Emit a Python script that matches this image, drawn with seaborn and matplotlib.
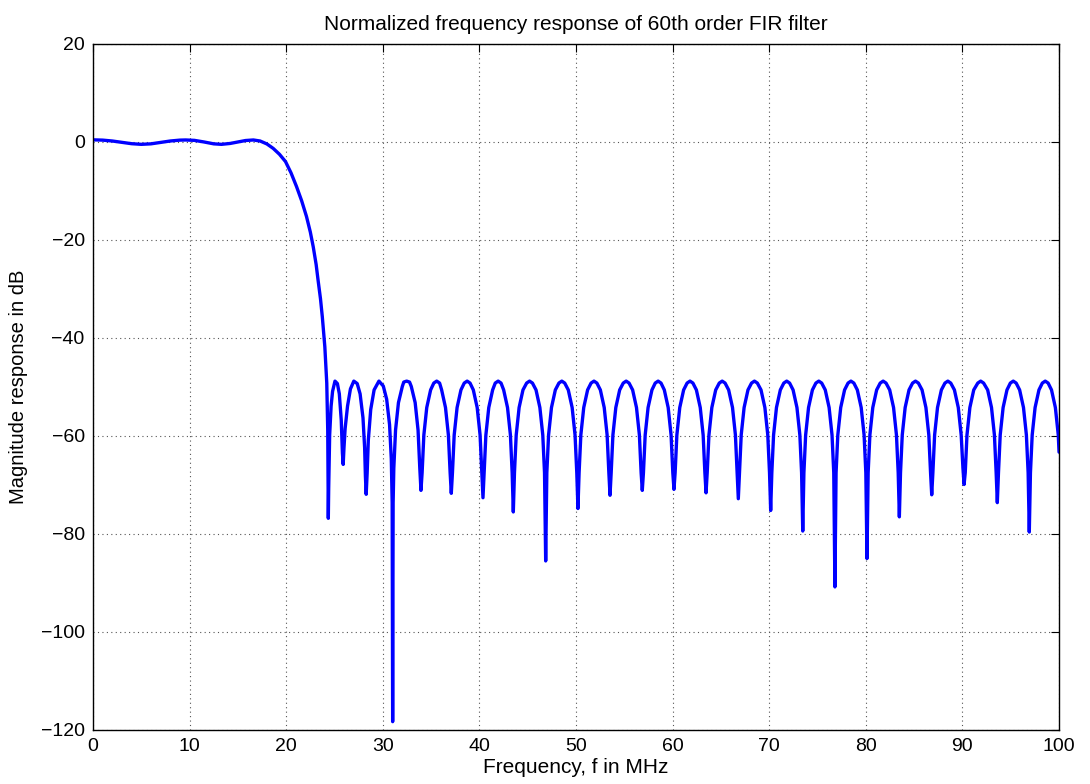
import numpy as np
import pandas as pd
import matplotlib
matplotlib.use("Agg")
import matplotlib.pyplot as plt
import seaborn as sns

# passband ripple (MHz, dB)
passband_f = [0.0, 1.0, 2.0, 3.0, 4.0, 5.0, 6.0, 7.0, 8.0, 9.0, 9.6, 10.5, 11.5,
              12.5, 13.3, 14.2, 15.0, 15.8, 16.6, 17.3, 18.0]
passband_db = [0.44, 0.38, 0.2, -0.08, -0.35, -0.48, -0.38, -0.1, 0.2, 0.38, 0.41, 0.33, 0.0,
               -0.38, -0.48, -0.3, 0.0, 0.3, 0.41, 0.2, -0.4]

# roll-off into the first null
transition_f = [18.65, 19.3, 19.93, 20.5, 21.07, 21.6, 22.1, 22.5, 22.8, 23.1, 23.3,
                23.55, 23.74, 24.0, 24.2, 24.3, 24.36]
transition_db = [-1.3, -2.5, -4.0, -6.3, -9.1, -12.0, -15.2, -18.4, -21.4, -25.0, -28.2,
                 -32.0, -35.7, -41.8, -49.2, -58.8, -76.8]

# stopband lobes, one lobe per line (ends on the next null)
stop_f = [
    24.40, 24.50, 24.65, 24.80, 25.05, 25.30, 25.50, 25.70, 25.82, 25.90,
    25.98, 26.10, 26.35, 26.65, 27.00, 27.35, 27.65, 27.95, 28.12, 28.20, 28.28,
    28.38, 28.50, 28.75, 29.10, 29.60, 30.05, 30.40, 30.70, 30.88, 30.97, 31.02,
    31.07, 31.14, 31.32, 31.62, 32.02, 32.17, 32.47, 32.77, 32.95, 33.35, 33.65, 33.83, 33.95,
    34.07, 34.25, 34.55, 34.95, 35.28, 35.58, 35.88, 36.09, 36.49, 36.79, 36.97, 37.09,
    37.21, 37.39, 37.69, 38.09, 38.43, 38.73, 39.03, 39.37, 39.77, 40.07, 40.25, 40.37,
    40.49, 40.67, 40.97, 41.37, 41.64, 41.94, 42.24, 42.51, 42.91, 43.21, 43.39, 43.51,
    43.63, 43.81, 44.11, 44.51, 44.89, 45.19, 45.49, 45.86, 46.26, 46.56, 46.74, 46.86,
    46.98, 47.16, 47.46, 47.86, 48.23, 48.53, 48.83, 49.20, 49.60, 49.90, 50.08, 50.20,
    50.32, 50.50, 50.80, 51.20, 51.56, 51.86, 52.16, 52.52, 52.92, 53.22, 53.40, 53.52,
    53.64, 53.82, 54.12, 54.52, 54.89, 55.19, 55.49, 55.86, 56.26, 56.56, 56.74, 56.86,
    56.98, 57.16, 57.46, 57.86, 58.20, 58.50, 58.80, 59.14, 59.54, 59.84, 60.02, 60.14,
    60.26, 60.44, 60.74, 61.14, 61.50, 61.80, 62.10, 62.46, 62.86, 63.16, 63.34, 63.46,
    63.58, 63.76, 64.06, 64.46, 64.83, 65.13, 65.43, 65.80, 66.20, 66.50, 66.68, 66.80,
    66.92, 67.10, 67.40, 67.80, 68.17, 68.47, 68.77, 69.15, 69.55, 69.85, 70.03, 70.15,
    70.27, 70.45, 70.75, 71.15, 71.51, 71.81, 72.11, 72.47, 72.87, 73.17, 73.35, 73.47,
    73.59, 73.77, 74.07, 74.47, 74.83, 75.13, 75.43, 75.80, 76.20, 76.50, 76.68, 76.80,
    76.92, 77.10, 77.40, 77.80, 78.16, 78.46, 78.76, 79.12, 79.52, 79.82, 80.00, 80.12,
    80.24, 80.42, 80.72, 81.12, 81.49, 81.79, 82.09, 82.47, 82.87, 83.17, 83.35, 83.47,
    83.59, 83.77, 84.07, 84.47, 84.84, 85.14, 85.44, 85.82, 86.22, 86.52, 86.70, 86.82,
    86.94, 87.12, 87.42, 87.82, 88.19, 88.49, 88.79, 89.17, 89.57, 89.87, 90.05, 90.17,
    90.29, 90.47, 90.77, 91.17, 91.59, 91.89, 92.19, 92.61, 93.01, 93.31, 93.49, 93.61,
    93.73, 93.91, 94.21, 94.61, 94.96, 95.26, 95.56, 95.92, 96.32, 96.62, 96.80, 96.92,
    97.04, 97.22, 97.52, 97.92, 98.27, 98.57, 98.87, 99.22, 99.62, 99.92, 100.00,
]
stop_db = [
    -70.6, -59.8, -53.9, -50.9, -48.8, -49.3, -51.4, -56.8, -63.5, -65.8,
    -62.5, -58.5, -53.9, -50.4, -48.8, -49.3, -51.4, -56.3, -62.4, -68.2, -71.9,
    -67.6, -60.9, -54.6, -50.6, -48.8, -49.8, -52.5, -57.7, -64.7, -73.6, -118.3,
    -73.6, -66.6, -58.8, -53.2, -49.9, -49.0, -48.8, -49.0, -49.9, -53.2, -58.8, -66.6, -71.1,
    -67.5, -59.8, -54.2, -50.6, -49.2, -48.8, -49.2, -50.6, -54.2, -59.8, -67.5, -71.7,
    -67.5, -59.8, -54.2, -50.6, -49.2, -48.8, -49.2, -50.6, -54.2, -59.8, -67.5, -72.6,
    -67.5, -59.8, -54.2, -50.6, -49.2, -48.8, -49.2, -50.6, -54.2, -59.8, -67.5, -75.5,
    -67.5, -59.8, -54.2, -50.6, -49.2, -48.8, -49.2, -50.6, -54.2, -59.8, -67.5, -85.5,
    -67.5, -59.8, -54.2, -50.6, -49.2, -48.8, -49.2, -50.6, -54.2, -59.8, -67.5, -74.8,
    -67.5, -59.8, -54.2, -50.6, -49.2, -48.8, -49.2, -50.6, -54.2, -59.8, -67.5, -72.1,
    -67.5, -59.8, -54.2, -50.6, -49.2, -48.8, -49.2, -50.6, -54.2, -59.8, -67.5, -71.1,
    -67.5, -59.8, -54.2, -50.6, -49.2, -48.8, -49.2, -50.6, -54.2, -59.8, -67.5, -70.9,
    -67.5, -59.8, -54.2, -50.6, -49.2, -48.8, -49.2, -50.6, -54.2, -59.8, -67.5, -71.6,
    -67.5, -59.8, -54.2, -50.6, -49.2, -48.8, -49.2, -50.6, -54.2, -59.8, -67.5, -72.8,
    -67.5, -59.8, -54.2, -50.6, -49.2, -48.8, -49.2, -50.6, -54.2, -59.8, -67.5, -75.2,
    -67.5, -59.8, -54.2, -50.6, -49.2, -48.8, -49.2, -50.6, -54.2, -59.8, -67.5, -79.4,
    -67.5, -59.8, -54.2, -50.6, -49.2, -48.8, -49.2, -50.6, -54.2, -59.8, -67.5, -90.8,
    -67.5, -59.8, -54.2, -50.6, -49.2, -48.8, -49.2, -50.6, -54.2, -59.8, -67.5, -85.0,
    -67.5, -59.8, -54.2, -50.6, -49.2, -48.8, -49.2, -50.6, -54.2, -59.8, -67.5, -76.5,
    -67.5, -59.8, -54.2, -50.6, -49.2, -48.8, -49.2, -50.6, -54.2, -59.8, -67.5, -72.0,
    -67.5, -59.8, -54.2, -50.6, -49.2, -48.8, -49.2, -50.6, -54.2, -59.8, -66.5, -69.9,
    -67.5, -59.8, -54.2, -50.6, -49.2, -48.8, -49.2, -50.6, -54.2, -59.8, -67.5, -73.6,
    -67.5, -59.8, -54.2, -50.6, -49.2, -48.8, -49.2, -50.6, -54.2, -59.8, -67.5, -79.6,
    -67.5, -59.8, -54.2, -50.6, -49.2, -48.8, -49.2, -50.6, -54.2, -59.8, -63.3,
]

x_ticks = [0, 10, 20, 30, 40, 50, 60, 70, 80, 90, 100]
y_ticks = [-120, -100, -80, -60, -40, -20, 0, 20]

df = pd.DataFrame({
    "f": passband_f + transition_f + stop_f,
    "db": passband_db + transition_db + stop_db,
})

sns.set_style("white")
plt.rcParams['font.family'] = ['Liberation Sans', 'DejaVu Sans']
plt.rcParams['text.color'] = 'black'
plt.rcParams['axes.labelcolor'] = 'black'

fig = plt.figure(figsize=(10.9, 7.84), dpi=100)
ax = fig.add_axes([0.0853, 0.0689, 0.8863, 0.875])

sns.lineplot(data=df, x="f", y="db", ax=ax, color="#0000ff", linewidth=2.4,
             estimator=None, sort=False)

ax.set_xlim(0, 100)
ax.set_ylim(-120, 20)
ax.set_xticks(x_ticks)
ax.set_yticks(y_ticks)
ax.tick_params(direction="in", top=True, right=True, length=6, width=0.8,
               labelsize=14, colors="black", pad=6)
ax.grid(True, linestyle=(0, (1, 3)), color="#555555", linewidth=0.8)
for s in ax.spines.values():
    s.set_color("black")
    s.set_linewidth(1.0)

ax.set_xlabel("Frequency, f in MHz", fontsize=15, labelpad=2)
ax.set_ylabel("Magnitude response in dB", fontsize=14.5, labelpad=9)
ax.set_title("Normalized frequency response of 60th order FIR filter", fontsize=15, pad=10,
             color="black")

fig.savefig("out.png", dpi=100)
